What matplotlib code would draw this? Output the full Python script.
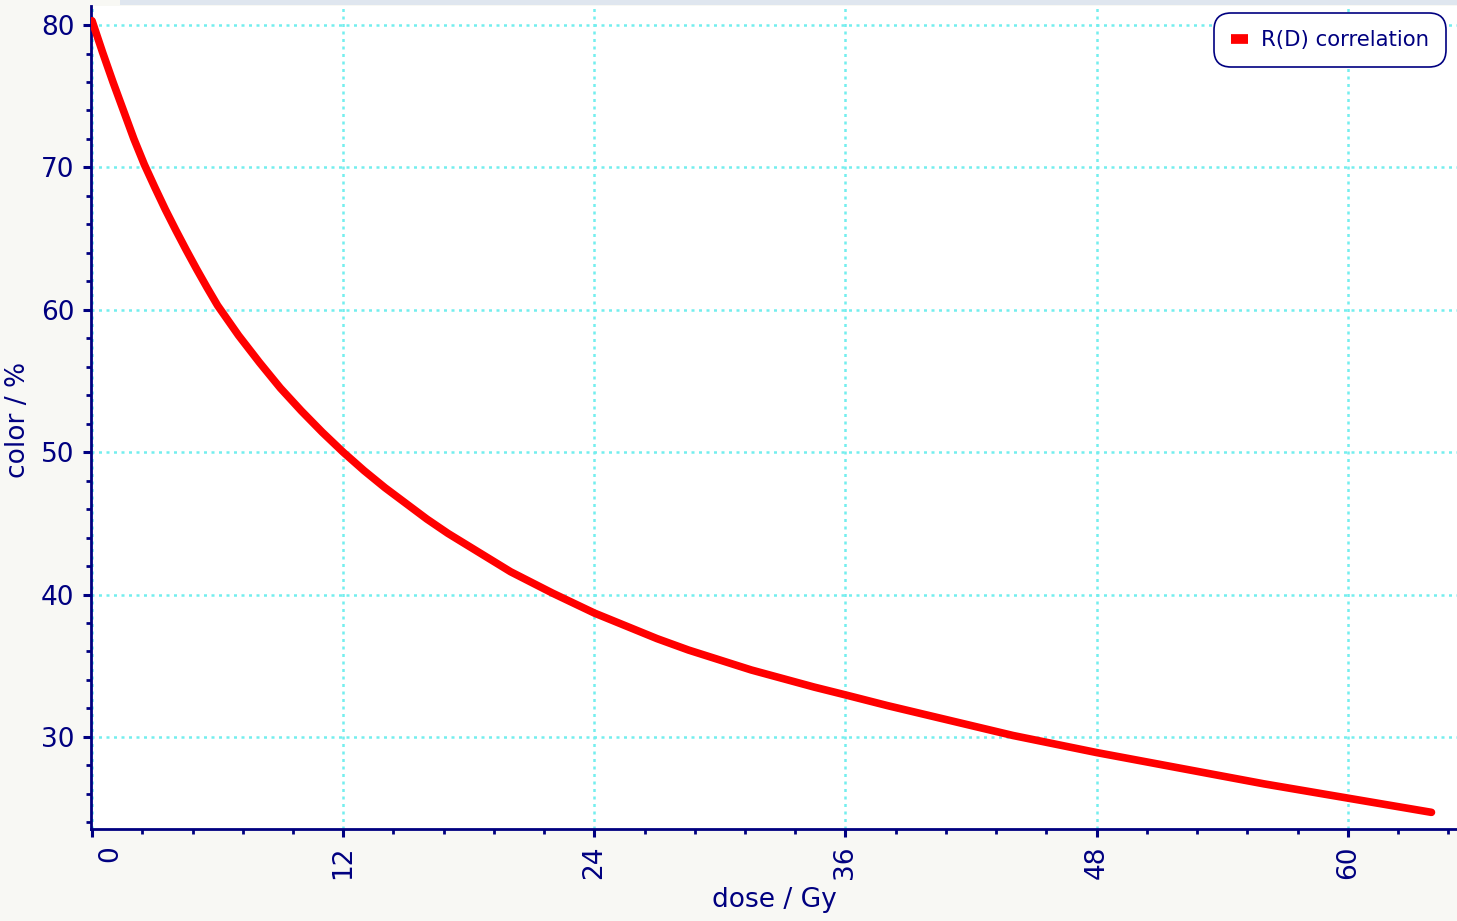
import matplotlib
matplotlib.use("Agg")
import matplotlib.pyplot as plt
import matplotlib.transforms as mtransforms
from matplotlib.lines import Line2D
from matplotlib.patches import Rectangle
from matplotlib.ticker import MultipleLocator

# ---------------- Data ---------------- #
dose = [0, 0.5, 1, 1.5, 2, 2.5, 3, 3.5, 4, 4.5, 5, 5.5, 6, 7, 8, 9, 10, 11,
        12, 13, 14, 15, 16, 17, 18, 19, 20, 21, 22, 23, 24, 25.5, 27, 28.5,
        30, 31.5, 33, 34.5, 36, 38, 40, 42, 44, 46, 48, 50, 52, 54, 56, 58,
        60, 62, 64]
color = [80.3, 78.1, 76.0, 74.0, 72.0, 70.2, 68.6, 67.05, 65.6, 64.2, 62.85,
         61.55, 60.3, 58.2, 56.3, 54.5, 52.9, 51.4, 50.0, 48.7, 47.5, 46.4,
         45.3, 44.3, 43.4, 42.5, 41.6, 40.85, 40.1, 39.4, 38.7, 37.8, 36.9,
         36.1, 35.4, 34.7, 34.1, 33.5, 32.95, 32.2, 31.5, 30.8, 30.1, 29.5,
         28.9, 28.35, 27.8, 27.25, 26.7, 26.2, 25.7, 25.2, 24.7]
x_ticks = [0, 12, 24, 36, 48, 60]
y_ticks = [30, 40, 50, 60, 70, 80]
series_name = "R(D) correlation"

NAVY = "#000080"
GRID = "#74eeee"

W, H = 1457, 921
fig = plt.figure(figsize=(W / 100, H / 100), dpi=100, facecolor="#f8f8f4")
# thin grey-blue strip along the top
fig.add_artist(Rectangle((120 / W, 1 - 5 / H), 1, 5 / H, transform=fig.transFigure,
                         facecolor="#dfe6ef", edgecolor="none", zorder=0))

ax = fig.add_axes([91 / W, 1 - 829 / H, (W - 91) / W, (829 - 6) / H])
ax.set_facecolor("white")

ax.plot(dose, color, color="red", lw=5.5, solid_capstyle="round",
        solid_joinstyle="round", zorder=3)

ax.set_xlim(-0.05, 65.22)
ax.set_ylim(23.53, 81.34)
ax.set_xticks(x_ticks)
ax.set_yticks(y_ticks)
ax.xaxis.set_minor_locator(MultipleLocator(2.4))
ax.yaxis.set_minor_locator(MultipleLocator(2))

for s in ["top", "right"]:
    ax.spines[s].set_visible(False)
for s in ["left", "bottom"]:
    ax.spines[s].set_color(NAVY)
    ax.spines[s].set_linewidth(2)

ax.tick_params(which="major", length=6, width=2.2, color=NAVY, labelcolor=NAVY,
               labelsize=19, pad=6)
ax.tick_params(which="minor", length=3.5, width=2, color=NAVY)
ax.tick_params(axis="x", labelrotation=90)

# the "0" label sits a little to the right of its tick
fig.canvas.draw()
lab0 = ax.get_xticklabels()[0]
lab0.set_transform(lab0.get_transform() +
                   mtransforms.ScaledTranslation(18 / 100, 0, fig.dpi_scale_trans))

ax.grid(True, which="major", color=GRID, linestyle=(0, (1.2, 1.8)), lw=1.8, zorder=1)

ax.set_xlabel("dose / Gy", color=NAVY, fontsize=19)
ax.set_ylabel("color / %", color=NAVY, fontsize=19)
ax.xaxis.set_label_coords(0.5, -0.071)
ax.yaxis.set_label_coords(-0.044, 0.497)

handle = Line2D([], [], color="red", lw=7, solid_capstyle="butt")
leg = ax.legend([handle], [series_name], loc="upper right",
                bbox_to_anchor=(1446 / W, 1 - 13 / H), bbox_transform=fig.transFigure,
                borderaxespad=0, fontsize=15.3, handlelength=0.8, handletextpad=0.6,
                borderpad=0.8, fancybox=True, framealpha=1, edgecolor=NAVY)
leg.get_frame().set_linewidth(1.2)
leg.get_frame().set_boxstyle("round", pad=0, rounding_size=0.8)
for t in leg.get_texts():
    t.set_color(NAVY)

fig.savefig("out.png", dpi=100, facecolor=fig.get_facecolor())
